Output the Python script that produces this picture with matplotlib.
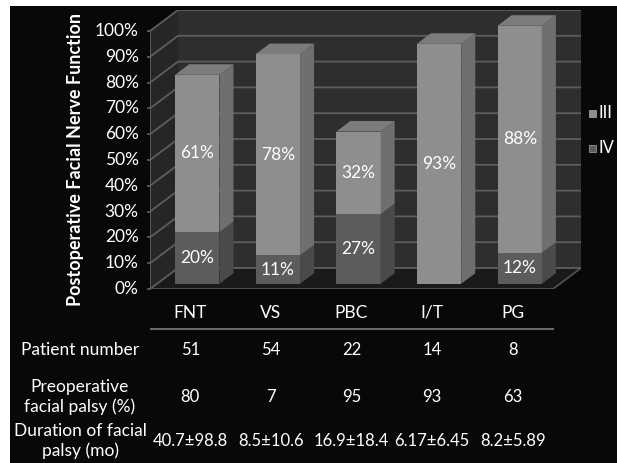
import numpy as np
import matplotlib
matplotlib.use('Agg')
import matplotlib.pyplot as plt
from matplotlib.patches import Polygon, Rectangle

groups = ['FNT', 'VS', 'PBC', 'I/T', 'PG']
grade_iv = [20, 11, 27, 0, 12]
grade_iii = [61, 78, 32, 93, 88]
series_names = ['III', 'IV']

row_labels = ['Patient number', 'Preoperative\nfacial palsy (%)', 'Duration of facial\npalsy (mo)']
patient_number = ['51', '54', '22', '14', '8']
preop_palsy = ['80', '7', '95', '93', '63']
palsy_duration = ['40.7\u00b198.8', '8.5\u00b110.6', '16.9\u00b118.4', '6.17\u00b16.45', '8.2\u00b15.89']

plt.rcParams['font.family'] = ['Lato', 'DejaVu Sans']

W, H = 617, 463
fig = plt.figure(figsize=(W / 100, H / 100), dpi=100, facecolor='white')
fig.patches.append(Rectangle((10 / W, 0), 1, 1 - 6 / H, transform=fig.transFigure,
                             facecolor='#080808', edgecolor='none', zorder=-10))

# fake 3d: depth offset of the back wall in data units
px_cat, px_pct = 80.6, 2.58
DX, DY = 28 / px_cat, 21 / px_pct
x0, x1 = -0.5, len(groups) - 0.5
left_px, floor_px = 150, 289
ax_w = (x1 - x0 + DX) * px_cat
ax_h = (100 + DY) * px_pct
ax = fig.add_axes([left_px / W, (H - floor_px) / H, ax_w / W, ax_h / H])
ax.set_xlim(x0, x1 + DX)
ax.set_ylim(0, 100 + DY)
ax.axis('off')

wall = '#2e2e2e'
side_wall = '#262626'
floor_c = '#1a1a1a'
grid_c = '#5e5e5e'

ax.add_patch(Polygon([(x0 + DX, DY), (x1 + DX, DY), (x1 + DX, 100 + DY), (x0 + DX, 100 + DY)],
                     closed=True, facecolor=wall, edgecolor='none', zorder=1))
ax.add_patch(Polygon([(x0, 0), (x0 + DX, DY), (x0 + DX, 100 + DY), (x0, 100)],
                     closed=True, facecolor=side_wall, edgecolor='none', zorder=1))
ax.add_patch(Polygon([(x0, 0), (x1, 0), (x1 + DX, DY), (x0 + DX, DY)],
                     closed=True, facecolor=floor_c, edgecolor='none', zorder=1))
for v in range(0, 101, 10):
    ax.plot([x0, x0 + DX, x1 + DX], [v, v + DY, v + DY], color=grid_c, lw=1.3, zorder=2)
    ax.plot([x0 - 0.03, x0], [v, v], color=grid_c, lw=1.3, zorder=2, clip_on=False)
    ax.text(x0 - 0.14, v, f'{v}%', color='white', fontsize=12.5, ha='right', va='center')
ax.plot([x0, x0], [0, 100], color=grid_c, lw=1.3, zorder=2)
ax.plot([x0, x1, x1 + DX], [0, 0, DY], color='#555555', lw=1.2, zorder=2)

# bars sit in the middle of the floor depth
d0, dd = 0.25, 0.5
bw = 0.55
xs = np.arange(len(groups)) + d0 * DX
base = d0 * DY
iv_front, iv_side = '#5c5c5c', '#4a4a4a'
iii_front, iii_side, iii_top = '#8e8e8e', '#6f6f6f', '#7c7c7c'

ax.bar(xs, grade_iv, bottom=base, width=bw, color=iv_front, zorder=4)
ax.bar(xs, grade_iii, bottom=base + np.array(grade_iv), width=bw, color=iii_front, zorder=4)
for i, x in enumerate(xs):
    xr = x + bw / 2
    xl = x - bw / 2
    lo, mid, hi = base, base + grade_iv[i], base + grade_iv[i] + grade_iii[i]
    for y_a, y_b, c in [(lo, mid, iv_side), (mid, hi, iii_side)]:
        if y_b > y_a:
            ax.add_patch(Polygon([(xr, y_a), (xr + dd * DX, y_a + dd * DY),
                                  (xr + dd * DX, y_b + dd * DY), (xr, y_b)],
                                 closed=True, facecolor=c, edgecolor='none', zorder=4))
    top_c = iii_top if grade_iii[i] > 0 else iv_side
    ax.add_patch(Polygon([(xl, hi), (xr, hi), (xr + dd * DX, hi + dd * DY), (xl + dd * DX, hi + dd * DY)],
                         closed=True, facecolor=top_c, edgecolor='none', zorder=4))
    if grade_iv[i] > 0:
        ax.text(x, lo + grade_iv[i] / 2, f'{grade_iv[i]}%', color='white', fontsize=12.5,
                ha='center', va='center', zorder=5)
    ax.text(x, mid + grade_iii[i] / 2, f'{grade_iii[i]}%', color='white', fontsize=12.5,
            ha='center', va='center', zorder=5)

ax.text(x0 - 0.93, 50, 'Postoperative Facial Nerve Function', rotation=90, color='white',
        fontsize=13, fontweight='bold', ha='center', va='center')

# legend on the right edge
for k, (name, c) in enumerate(zip(series_names, [iii_front, iv_front])):
    ly = 1 - (113 + 35 * k) / H
    fig.patches.append(Rectangle((589 / W, ly - 3.5 / H), 7 / W, 7 / H, transform=fig.transFigure,
                                 facecolor=c, edgecolor='#aaaaaa', lw=0.5, zorder=3))
    fig.text(599 / W, ly, name, color='white', fontsize=12, va='center', ha='left')

# table under the chart, same x scale
tax = fig.add_axes([left_px / W, 0, ax_w / W, (H - floor_px) / H])
tax.set_xlim(x0, x1 + DX)
tax.set_ylim(H - floor_px, 0)
tax.axis('off')

for i, g in enumerate(groups):
    tax.text(i, 24, g, color='white', fontsize=12.5, ha='center', va='center')
tax.plot([x0, x1], [40, 40], color='#6a6a6a', lw=1.5)

label_x = x0 - 70 / px_cat
rows = [(61, patient_number), (108, preop_palsy), (152, palsy_duration)]
for (ry, vals), lab in zip(rows, row_labels):
    tax.text(label_x, ry, lab, color='white', fontsize=12.5, ha='center',
             va='center', linespacing=1.3, clip_on=False)
    for i, v in enumerate(vals):
        tax.text(i, ry, v, color='white', fontsize=12, ha='center', va='center')

fig.savefig('out.png', dpi=100, facecolor='white')
